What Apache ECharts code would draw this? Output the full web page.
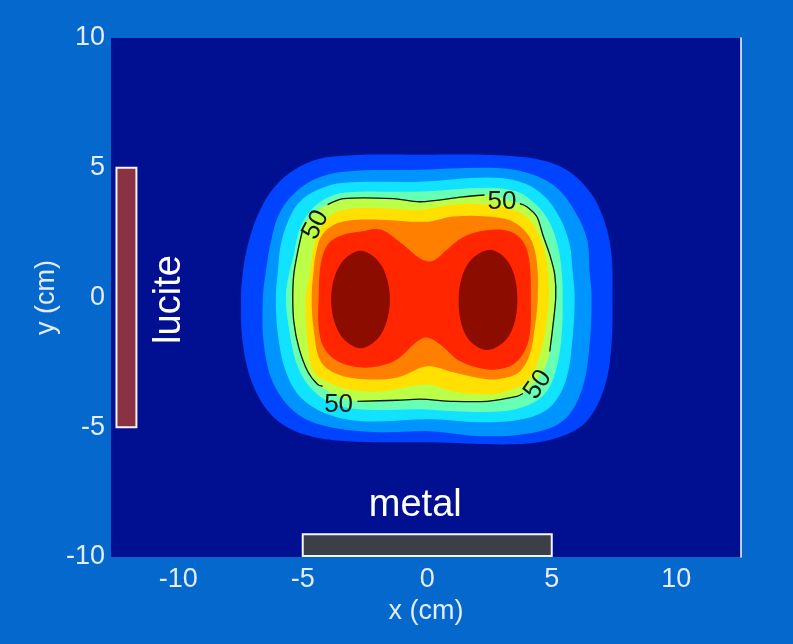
<!DOCTYPE html>
<html>
<head>
<meta charset="utf-8">
<title>dose contour</title>
<script src="https://cdn.jsdelivr.net/npm/echarts@6/dist/echarts.min.js"></script>
<style>
    html, body {margin: 0; padding: 0; background: #0568cc;}
    #main {width: 793px; height: 644px;}
</style>
</head>
<body>
<div id="main"></div>
<script>
// contour levels (% dose), one fill colour per band
var levels = [10, 20, 30, 40, 50, 60, 70, 80, 90];
var bandColors = ['#0044ff', '#0094ff', '#10e2ff', '#66ffb4', '#bcff48', '#ffe000', '#ff8000', '#ff2600', '#8c0c00'];

// outer edge of each level, [x, y] in cm
var c10 = [[-0.28, 5.5], [3.72, 5.42], [5.44, 5.0], [6.52, 4.08], [7.12, 2.92], [7.4, 1.65], [7.44, 0], [7.4, -1.81], [7.12, -3.46], [6.4, -4.77], [5.32, -5.38], [3.72, -5.65], [0.12, -5.58], [-3.2, -5.54], [-4.96, -5.27], [-6.16, -4.62], [-6.96, -3.46], [-7.4, -1.81], [-7.48, 0], [-7.4, 1.0], [-7.2, 2.04], [-6.8, 3.19], [-6.16, 4.23], [-5.2, 5.0], [-3.88, 5.42]];
var c20 = [[-0.28, 4.92], [2.4, 5.0], [3.84, 4.85], [5.04, 4.35], [5.84, 3.46], [6.4, 2.31], [6.52, 1.0], [6.6, 0], [6.52, -1.81], [6.24, -3.46], [5.6, -4.62], [4.52, -5.15], [2.4, -5.35], [0.12, -5.15], [-1.88, -5.19], [-3.88, -5.0], [-5.2, -4.5], [-6.16, -3.35], [-6.56, -1.81], [-6.6, 0], [-6.48, 1.0], [-6.28, 2.15], [-5.96, 3.19], [-5.4, 3.96], [-4.56, 4.54], [-3.36, 4.85]];
var c30 = [[-0.28, 4.46], [2.4, 4.62], [3.72, 4.46], [4.64, 3.96], [5.32, 3.08], [5.72, 2.04], [5.84, 1.0], [5.92, 0], [5.84, -1.54], [5.6, -3.08], [5.04, -4.12], [4.12, -4.62], [2.4, -4.81], [0.12, -4.69], [-2.56, -4.77], [-4.0, -4.5], [-5.08, -3.85], [-5.68, -2.85], [-6.0, -1.42], [-6.08, 0], [-6.0, 1.0], [-5.88, 2.04], [-5.6, 2.92], [-5.16, 3.65], [-4.4, 4.15], [-3.36, 4.42]];
var c40 = [[-0.28, 4.08], [2.4, 4.23], [3.6, 4.08], [4.24, 3.69], [4.8, 3.08], [5.2, 2.15], [5.4, 1.0], [5.44, 0], [5.4, -1.42], [5.2, -2.69], [4.8, -3.62], [4.12, -4.12], [3.04, -4.38], [1.04, -4.38], [-0.28, -4.31], [-2.8, -4.31], [-4.0, -4.0], [-4.8, -3.35], [-5.28, -2.46], [-5.56, -1.15], [-5.68, 0], [-5.56, 0.88], [-5.36, 1.65], [-5.16, 2.54], [-4.76, 3.27], [-4.16, 3.77], [-3.36, 4.04]];
var c50 = [[-0.28, 3.69], [1.44, 3.88], [2.4, 3.96], [3.6, 3.65], [4.0, 3.5], [4.4, 3.12], [4.64, 2.42], [4.92, 1.65], [5.12, 0.88], [5.16, 0], [5.04, -1.15], [4.92, -2.08], [4.64, -2.85], [4.12, -3.46], [3.6, -3.81], [2.4, -4.0], [1.04, -4.0], [-0.28, -3.92], [-1.2, -3.96], [-2.8, -4.0], [-3.88, -3.65], [-4.4, -3.35], [-4.8, -2.85], [-5.16, -1.92], [-5.36, -0.92], [-5.4, 0], [-5.36, 0.88], [-5.2, 1.77], [-5.0, 2.62], [-4.6, 3.19], [-4.0, 3.58], [-3.36, 3.81], [-1.36, 3.81]];
var c60 = [[-0.28, 3.38], [1.04, 3.58], [2.4, 3.58], [3.44, 3.38], [4.12, 3.0], [4.52, 2.31], [4.8, 1.38], [4.88, 0], [4.72, -1.42], [4.44, -2.46], [4.0, -3.23], [3.2, -3.62], [2.4, -3.73], [1.04, -3.62], [0, -3.35], [-1.88, -3.62], [-3.2, -3.54], [-4.0, -3.27], [-4.56, -2.85], [-4.8, -1.81], [-4.88, 0], [-4.72, 0.88], [-4.6, 1.77], [-4.4, 2.5], [-4.08, 3.0], [-3.6, 3.31], [-2.56, 3.46]];
var c70 = [[0, 2.92], [1.04, 3.12], [2.4, 3.12], [3.44, 2.92], [4.12, 2.31], [4.4, 1.38], [4.44, 0], [4.32, -1.15], [4.12, -2.19], [3.72, -2.85], [3.2, -3.08], [2.4, -3.15], [1.04, -2.88], [0, -2.65], [-1.2, -3.08], [-2.56, -3.15], [-3.6, -2.96], [-4.28, -2.46], [-4.56, -1.23], [-4.64, 0], [-4.56, 1.08], [-4.48, 1.65], [-4.28, 2.31], [-3.88, 2.73], [-3.2, 2.96], [-1.88, 3.0]];
var c80 = [[0.2, 1.4], [0.8, 1.85], [1.4, 2.3], [2.12, 2.55], [2.92, 2.62], [3.52, 2.46], [3.92, 2.04], [4.12, 1.27], [4.16, 0], [4.12, -1.42], [3.84, -2.19], [3.32, -2.65], [2.4, -2.77], [1.32, -2.46], [0.52, -1.81], [0, -1.54], [-0.4, -1.69], [-1.2, -2.38], [-1.96, -2.65], [-2.76, -2.69], [-3.6, -2.46], [-4.16, -1.92], [-4.36, -1.15], [-4.36, 0], [-4.28, 1.27], [-4.0, 2.04], [-3.48, 2.38], [-2.68, 2.54], [-1.88, 2.62], [-1.08, 2.12], [-0.28, 1.5]];
// the 90% level splits into two islands
var c90left = [[-2.68, 1.8], [-1.85, 1.25], [-1.5, -0.08], [-1.85, -1.41], [-2.68, -1.96], [-3.51, -1.41], [-3.86, -0.08], [-3.51, 1.25]];
var c90right = [[2.5, 1.84], [3.3, 1.3], [3.62, -0.05], [3.3, -1.45], [2.4, -2.02], [1.58, -1.5], [1.26, -0.15], [1.6, 1.25]];

// 50% isoline, broken where its labels sit
var line50a = [[-4.0, 3.58], [-3.36, 3.81], [-1.36, 3.81], [-0.28, 3.69], [1.44, 3.88], [2.3, 3.95]];
var line50b = [[3.72, 3.62], [4.0, 3.5], [4.4, 3.12], [4.64, 2.42], [4.92, 1.65], [5.12, 0.88], [5.16, 0], [5.04, -1.15], [4.92, -2.08]];
var line50c = [[3.84, -3.7], [3.6, -3.81], [2.4, -4.0], [1.04, -4.0], [-0.28, -3.92], [-1.2, -3.96], [-2.8, -4.0]];
var line50d = [[-4.2, -3.42], [-4.4, -3.35], [-4.8, -2.85], [-5.16, -1.92], [-5.36, -0.92], [-5.4, 0], [-5.36, 0.88], [-5.2, 1.77], [-5.0, 2.62]];
var label50Pos = [[-4.48, 2.8], [3.0, 3.7], [4.44, -3.36], [-3.56, -4.12]];
var label50Rot = [62, 0, 55, 0];

// phantom pieces: [xmin, xmax, ymin, ymax] in cm
var luciteBox = [-12.48, -11.68, -5.0, 5.0];
var metalBox = [-5.0, 5.0, -9.96, -9.12];
var luciteLabelPos = [-10.36, -0.08];
var metalLabelPos = [-0.48, -8.0];

var xTicks = [-10, -5, 0, 5, 10];

var bands = [
    {color: bandColors[0], pts: c10},
    {color: bandColors[1], pts: c20},
    {color: bandColors[2], pts: c30},
    {color: bandColors[3], pts: c40},
    {color: bandColors[4], pts: c50},
    {color: bandColors[5], pts: c60},
    {color: bandColors[6], pts: c70},
    {color: bandColors[7], pts: c80},
    {color: bandColors[8], pts: c90left},
    {color: bandColors[8], pts: c90right}
];
var lines50 = [line50a, line50b, line50c, line50d];

var axisText = '#e4ecff';
var fontFam = '"Liberation Sans", Arial, sans-serif';

var chart = echarts.init(document.getElementById('main'));

function toPx(api, arr) {
    return arr.map(function (p) {
        return api.coord(p);
    });
}

function boxItem(api, box, fill) {
    var a = api.coord([box[0], box[3]]);
    var b = api.coord([box[1], box[2]]);
    return {
        type: 'rect',
        shape: {x: a[0], y: a[1], width: b[0] - a[0], height: b[1] - a[1]},
        style: {fill: fill, stroke: '#f4f4ff', lineWidth: 2}
    };
}

var option = {
    backgroundColor: '#0568cc',
    animation: false,
    grid: {
        left: 111, top: 38, width: 630, height: 519,
        show: true, backgroundColor: '#001090', borderWidth: 0
    },
    xAxis: {
        type: 'value', min: -12.7, max: 12.6,
        axisLine: {show: false}, axisTick: {show: false}, splitLine: {show: false},
        axisLabel: {customValues: xTicks, color: axisText, fontSize: 27, margin: 9, fontFamily: fontFam},
        name: 'x (cm)', nameLocation: 'middle', nameGap: 41, nameMoveOverlap: false,
        nameTextStyle: {color: axisText, fontSize: 27, fontFamily: fontFam}
    },
    yAxis: [{
        type: 'value', min: -10, max: 10, interval: 5,
        axisLine: {show: false}, axisTick: {show: false}, splitLine: {show: false},
        axisLabel: {color: axisText, fontSize: 27, margin: 6, fontFamily: fontFam},
        name: 'y (cm)', nameLocation: 'middle', nameGap: 51, nameMoveOverlap: false,
        nameTextStyle: {color: axisText, fontSize: 27, fontFamily: fontFam}
    }, {
        // only here for the white frame line on the right
        type: 'value', position: 'right', min: -10, max: 10, interval: 5,
        axisLine: {show: true, lineStyle: {color: '#ffffff', width: 1.5}},
        axisTick: {show: false}, axisLabel: {show: false}, splitLine: {show: false}
    }],
    series: [{
        // filled bands, outer level first
        type: 'custom',
        silent: true,
        clip: true,
        data: bands.map(function (b, i) { return [i, 0]; }),
        renderItem: function (params, api) {
            var b = bands[params.dataIndex];
            return {
                type: 'polygon',
                shape: {points: toPx(api, b.pts), smooth: 0.35},
                style: {fill: b.color}
            };
        }
    }, {
        // 50% isoline
        type: 'custom',
        silent: true,
        data: lines50.map(function (l, i) { return [i, 0]; }),
        renderItem: function (params, api) {
            return {
                type: 'polyline',
                shape: {points: toPx(api, lines50[params.dataIndex]), smooth: 0.3},
                style: {fill: null, stroke: '#051208', lineWidth: 1.3}
            };
        }
    }, {
        type: 'custom',
        silent: true,
        data: label50Pos.map(function (p, i) { return [p[0], p[1], i]; }),
        renderItem: function (params, api) {
            var p = api.coord([api.value(0), api.value(1)]);
            return {
                type: 'text',
                x: p[0], y: p[1],
                rotation: label50Rot[params.dataIndex] * Math.PI / 180,
                style: {
                    text: '50', fill: '#0a1a12', fontSize: 26, fontFamily: fontFam,
                    align: 'center', verticalAlign: 'middle'
                }
            };
        }
    }, {
        // lucite slab and metal plate with their names
        type: 'custom',
        silent: true,
        clip: false,
        data: [[0, 0]],
        renderItem: function (params, api) {
            var lp = api.coord(luciteLabelPos);
            var mp = api.coord(metalLabelPos);
            return {
                type: 'group',
                children: [
                    boxItem(api, luciteBox, '#8a3241'),
                    boxItem(api, metalBox, '#3d3f48'),
                    {
                        type: 'text', x: lp[0], y: lp[1], rotation: Math.PI / 2,
                        style: {
                            text: 'lucite', fill: '#ffffff', fontSize: 38, fontFamily: fontFam,
                            align: 'center', verticalAlign: 'middle'
                        }
                    },
                    {
                        type: 'text', x: mp[0], y: mp[1],
                        style: {
                            text: 'metal', fill: '#ffffff', fontSize: 38, fontFamily: fontFam,
                            align: 'center', verticalAlign: 'middle'
                        }
                    }
                ]
            };
        }
    }]
};

chart.setOption(option);
</script>
</body>
</html>
